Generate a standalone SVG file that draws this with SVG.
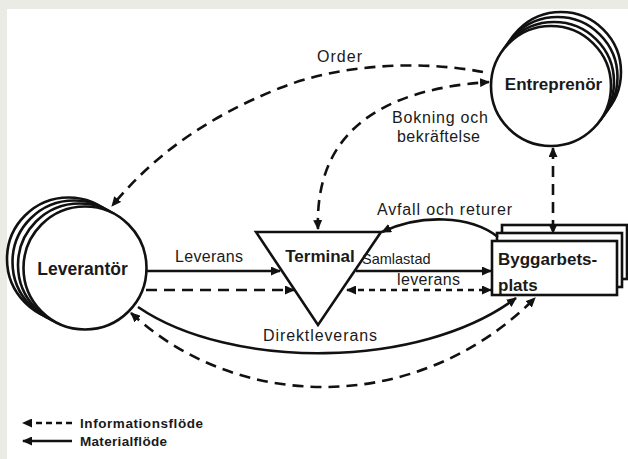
<svg xmlns="http://www.w3.org/2000/svg" width="628" height="459" viewBox="0 0 628 459">
<defs>
<style>
.shape{fill:#fff;stroke:#111;stroke-width:2.6}
.bold{font-family:"Liberation Sans",Arial,sans-serif;font-weight:bold;font-size:17px;fill:#1a1a1a}
.lbl{font-family:"Liberation Sans",Arial,sans-serif;font-size:16px;fill:#1a1a1a}
.leg{font-family:"Liberation Sans",Arial,sans-serif;font-weight:bold;font-size:13.5px;fill:#1a1a1a}
.c{fill:none;stroke:#111;stroke-width:2.6}
.d{stroke-dasharray:11 7}
.s{stroke-dasharray:6 5}
.e{marker-end:url(#ah)}
.b{marker-start:url(#ah);marker-end:url(#ah)}
</style>
<marker id="ah" markerUnits="userSpaceOnUse" markerWidth="10" markerHeight="9" refX="9" refY="4.5" orient="auto-start-reverse" viewBox="0 0 10 9">
<path d="M0,0 L10,4.5 L0,9 z" fill="#111"/>
</marker>
</defs>
<rect x="0" y="0" width="628" height="459" fill="#ebebe6"/>
<rect x="7" y="9" width="621" height="450" fill="#fff"/>

<g id="leverantor">
<circle class="shape" cx="68.5" cy="259" r="61.5"/>
<circle class="shape" cx="74" cy="262" r="61.5"/>
<circle class="shape" cx="79.5" cy="265" r="61.5"/>
<circle class="shape" cx="85" cy="268" r="61.5"/>
<text class="bold" x="82.5" y="275" text-anchor="middle" style="font-size:17.5px">Leverantör</text>
</g>

<g id="entreprenor">
<circle class="shape" cx="561" cy="72" r="60"/>
<circle class="shape" cx="557.5" cy="77" r="60"/>
<circle class="shape" cx="554" cy="82" r="60"/>
<circle class="shape" cx="551" cy="86" r="60"/>
<text class="bold" x="553.5" y="90" text-anchor="middle">Entreprenör</text>
</g>

<g id="terminal">
<polygon class="shape" points="256,232 381,232 318,325"/>
<text class="bold" x="320" y="262" text-anchor="middle">Terminal</text>
</g>

<g id="byggarbetsplats">
<rect class="shape" x="502" y="225" width="125" height="54"/>
<rect class="shape" x="497" y="233" width="125" height="54"/>
<rect class="shape" x="492" y="241" width="125" height="54"/>
<text class="bold" x="498" y="265">Byggarbets-</text>
<text class="bold" x="498" y="291">plats</text>
</g>

<g id="connectors">
<path class="c d e" d="M483,72 C420,60 340,64 280,88 C200,120 150,160 112,206"/>
<path class="c d b" d="M318,229 C315,140 370,90 489,82"/>
<path class="c d b" d="M553,148 L553,233"/>
<path class="c e" d="M498,237 C470,215 420,214 382,232"/>
<path class="c e" d="M147,271 L280,271"/>
<path class="c d e" d="M146,290 L294,290"/>
<path class="c e" d="M356,271 L491,271"/>
<path class="c s b" d="M347,290 L491,290"/>
<path class="c e" d="M138,307 C230,370 420,370 516,298"/>
<path class="c d b" d="M131,313 C240,414 420,414 535,298"/>
<text class="lbl" x="317" y="62" textLength="45">Order</text>
<text class="lbl" x="392" y="123" textLength="96">Bokning och</text>
<text class="lbl" x="397" y="142" textLength="83">bekräftelse</text>
<text class="lbl" x="377" y="215" textLength="135">Avfall och returer</text>
<text class="lbl" x="175" y="262" textLength="68">Leverans</text>
<text class="lbl" x="362" y="264" style="font-size:14.5px">Samlastad</text>
<text class="lbl" x="397" y="285" textLength="63">leverans</text>
<text class="lbl" x="263" y="341" textLength="114">Direktleverans</text>
</g>

<g id="legend">
<path class="c e" style="stroke-dasharray:6 4" d="M72,423 L23,423"/>
<path class="c e" d="M72,441 L23,441"/>
<text class="leg" x="80" y="428" textLength="123">Informationsflöde</text>
<text class="leg" x="80" y="446" textLength="87">Materialflöde</text>
</g>
</svg>
